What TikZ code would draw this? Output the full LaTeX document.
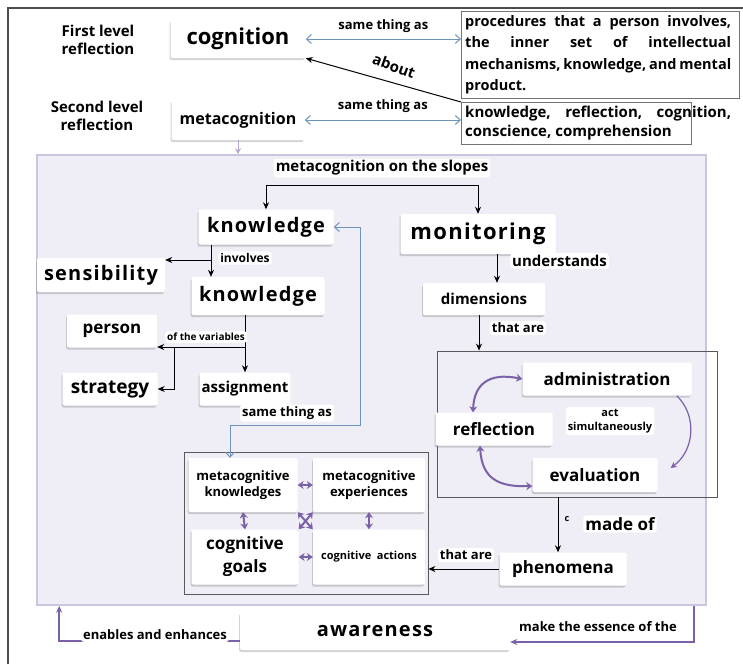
\documentclass[tikz,border=0pt]{standalone}
\usepackage{fontspec}
\setmainfont{Open Sans}
\usetikzlibrary{arrows.meta,shadows}
\definecolor{lilac}{RGB}{123,97,168}
\definecolor{lilacfill}{RGB}{239,237,245}
\definecolor{lilacline}{RGB}{205,196,224}
\definecolor{steel}{RGB}{110,148,190}
\hyphenpenalty=10000
\exhyphenpenalty=10000
\tolerance=9999
\newcommand{\fs}[1]{\fontsize{#1}{1.2\dimexpr#1pt\relax}\selectfont\bfseries}
\newcommand{\spaced}{\addfontfeature{LetterSpace=6}}
\tikzset{
  card/.style={fill=white, rounded corners=2pt, inner sep=2pt, drop shadow={opacity=0.35, shadow xshift=-1pt, shadow yshift=-2pt}},
  tag/.style={fill=white, rounded corners=3pt, inner sep=2pt},
  frame/.style={draw=black!65, line width=0.8pt},
  para/.style={text width=266pt, align=justify, inner sep=4pt, anchor=north west},
  arr/.style={-{Stealth[length=7pt,width=6pt]}, line width=1pt},
  lilacarr/.style={lilac, line width=2pt, {Stealth[length=6pt,width=8pt]}-{Stealth[length=6pt,width=8pt]}},
  lilacone/.style={lilac, line width=1.2pt, -{Stealth[length=6pt,width=6pt]}},
  steelarr/.style={steel, line width=1pt, {Straight Barb[length=5pt,width=9pt]}-{Straight Barb[length=5pt,width=9pt]}}
}
\begin{document}
\begin{tikzpicture}[x=1pt,y=-1pt]
\useasboundingbox (0,0) rectangle (743,664);
\draw[line width=1.2pt, black!70] (8,664) -- (8,8) -- (743,8);

\node[align=center, font=\fs{15}] (first) at (98,40) {First level\\reflection};
\node[align=center, font=\fs{15}] (second) at (97,116) {Second level\\reflection};
\node[card, minimum width=135pt, minimum height=38pt, font=\fs{22}] (cog) at (238,39) {cognition};
\node[card, minimum width=133pt, minimum height=40pt, font=\fs{16}] (meta) at (238,120) {metacognition};
\node[para, font=\fontsize{14.5}{21.5}\selectfont\bfseries] (proc) at (461,11) {procedures that a person involves,\linebreak the inner set of intellectual\linebreak mechanisms, knowledge, and mental\linebreak product.};
\draw[black!55] (proc.north west) rectangle ([xshift=4pt]proc.south east);
\node[para, font=\fontsize{15}{19}\selectfont\bfseries] (ideas) at (461,102) {knowledge, reflection, cognition,\linebreak conscience, comprehension};
\draw[black!55] (ideas.north west) rectangle ([xshift=-44pt]ideas.south east);

\draw[steelarr] (cog.east) -- (proc.west |- cog.east) node[midway, above=3pt, text=black, font=\fs{13}] {same thing as};
\draw[steelarr] (meta.east) -- (ideas.west |- meta.east) node[midway, above=4pt, text=black, font=\fs{13}] {same thing as};
\draw[arr] (ideas.north west) -- (cog.south east);
\node[rotate=-20, font=\fs{15}] (about) at (394,66) {about};

\node[fill=lilacfill, draw=lilacline, line width=1.6pt, minimum width=669pt, minimum height=450pt] (panel) at (371.5,380) {};
\draw[lilacline!70!lilac, line width=1pt, -{Stealth[length=6pt,width=6pt]}] (meta.south) -- (meta.south |- panel.north);

\node[tag, font=\fs{15}] (slopes) at (382,168) {metacognition on the slopes};
\node[card, minimum width=135pt, minimum height=35pt, font=\fs{20}\spaced] (know) at (266,227) {knowledge};
\node[card, minimum width=155pt, minimum height=40pt, font=\fs{22}\spaced] (moni) at (478,234) {monitoring};
\coordinate (fork) at (382,185);
\draw[line width=1pt] (know.north |- fork) -- (moni.north |- fork);
\draw[arr] (know.north |- fork) -- (know.north);
\draw[arr] (moni.north |- fork) -- (moni.north);

\node[card, minimum width=128pt, minimum height=34pt, font=\fs{20}\spaced] (sens) at (101,275) {sensibility};
\node[card, minimum width=133pt, minimum height=38pt, font=\fs{20}\spaced] (know2) at (258,296) {knowledge};
\coordinate (split) at (211,260);
\draw[line width=1pt] (know.south -| split) -- (split);
\draw[arr] (split) -- (split |- know2.north);
\draw[arr] (split) -- (sens.east |- split);
\node[tag, font=\fs{12}] (involves) at (245,258) {involves};

\node[card, minimum width=90pt, minimum height=33pt, font=\fs{17}] (pers) at (112,331) {person};
\node[card, minimum width=95pt, minimum height=33pt, font=\fs{19}] (strat) at (110,389) {strategy};
\node[card, minimum width=90pt, minimum height=33pt, font=\fs{15}] (assign) at (245,389) {assignment};
\coordinate (vars) at (174,347);
\draw[arr] (know2.south -| assign.north) -- (assign.north);
\draw[arr] (assign.north |- vars) -- (pers.east |- vars);
\draw[arr] (vars) |- (strat.east);
\node[tag, font=\fs{10}] (ofvars) at (206,337) {of the variables};

\node[frame, minimum width=244pt, minimum height=142pt] (group) at (306,523) {};
\node[card, minimum width=109pt, minimum height=54pt, align=center, font=\fs{13}] (mk) at (243,485) {metacognitive\\knowledges};
\node[card, minimum width=112pt, minimum height=54pt, align=center, font=\fs{13}] (me) at (369,485) {metacognitive\\experiences};
\node[card, minimum width=107pt, minimum height=55pt, align=center, font=\fontsize{17}{23}\selectfont\bfseries] (cg) at (245,557) {cognitive\\goals};
\node[card, minimum width=112pt, minimum height=55pt, font=\fs{11}] (ca) at (369,557) {cognitive\enspace actions};
\draw[lilacarr] (mk.east) -- (me.west);
\draw[lilacarr] (mk.south) -- (cg.north);
\draw[lilacarr] (me.south) -- (ca.north);
\draw[lilacarr] (cg.east) -- (ca.west);
\draw[lilacarr] (mk.south east) -- (ca.north west);
\draw[lilacarr] (me.south west) -- (cg.north east);

\coordinate (bend) at (360,425);
\draw[steelarr] ([xshift=-13pt]mk.north) |- (bend) |- (know.east);
\node[tag, font=\fs{13}] (same) at (287,413) {same thing as};

\node[frame, minimum width=280pt, minimum height=146pt] (dims) at (577,424) {};
\node[card, minimum width=122pt, minimum height=32pt, font=\fs{15}] (dimn) at (484,299) {dimensions};
\draw[arr] ([xshift=19pt]moni.south) -- ([xshift=13pt]dimn.north);
\node[tag, anchor=west, font=\fs{15}] (under) at (510,261) {understands};
\draw[arr] ([xshift=-5pt]dimn.south) -- ([xshift=-5pt]dimn.south |- dims.north);
\node[tag, font=\fs{13}] (thatare) at (518,328) {that are};

\node[card, minimum width=169pt, minimum height=33pt, font=\fs{17}] (admin) at (607,379) {administration};
\node[card, minimum width=117pt, minimum height=33pt, font=\fs{17}] (refl) at (494,429) {reflection};
\node[card, minimum width=125pt, minimum height=34pt, font=\fs{17}] (eval) at (595,475) {evaluation};
\node[tag, align=center, font=\fontsize{11}{14}\selectfont\bfseries] (simul) at (610,421) {act\\simultaneously};
\draw[lilacarr] (admin.west) .. controls (488,372) and (474,385) .. ([xshift=-21pt]refl.north);
\draw[lilacarr] ([xshift=-14pt]refl.south) .. controls (482,480) and (500,487) .. ([yshift=-11pt]eval.west);
\draw[lilacone] ([xshift=-15pt]admin.south east) .. controls (697,415) and (695,450) .. ([shift={(13pt,7pt)}]eval.east);

\node[card, minimum width=127pt, minimum height=33pt, font=\fs{17}] (phen) at (563,569) {phenomena};
\draw[arr] ([xshift=-5pt]phen.north |- dims.south) -- ([xshift=-5pt]phen.north);
\node[tag, font=\fs{17}] (madeof) at (620,524) {made of};
\node[font=\fs{9}] (cmark) at (567,519) {c};
\draw[arr] (phen.west) -- (group.east |- phen.west);
\node[tag, font=\fs{13}] (thatare2) at (466,555) {that are};

\node[card, minimum width=270pt, minimum height=38pt, font=\fs{20}\spaced] (aware) at (375,631) {awareness};
\draw[lilac, line width=2pt, -{Stealth[length=7pt,width=6pt]}] ([yshift=-10pt]aware.west) -| ([xshift=23pt]panel.south west);
\draw[lilac, line width=2pt, -{Stealth[length=7pt,width=6pt]}] ([xshift=-13pt]panel.south east) |- ([yshift=-11pt]aware.east);
\node[tag, font=\fs{13}] (enables) at (155,635) {enables and enhances};
\node[tag, font=\fs{13}] (essence) at (598,627) {make the essence of the};
\end{tikzpicture}
\end{document}
